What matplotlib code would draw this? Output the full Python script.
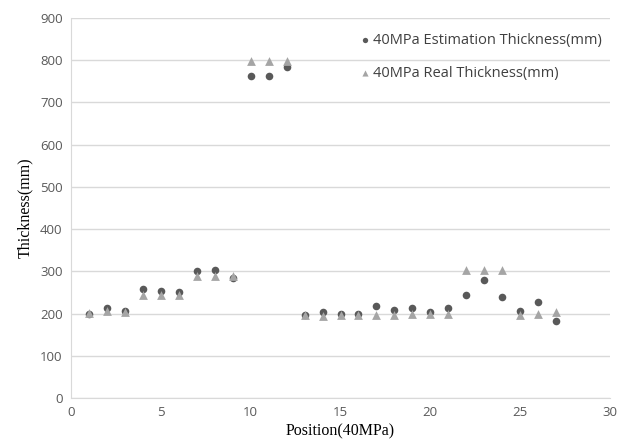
import matplotlib
matplotlib.use("Agg")
import matplotlib.pyplot as plt

positions = list(range(1, 28))
estimation = [200, 213, 206, 257, 253, 251, 301, 303, 284, 763, 763, 785,
              197, 203, 198, 199, 217, 209, 212, 203, 212, 245, 280, 239, 205, 227, 182]
real = [202, 205, 203, 245, 245, 245, 288, 288, 288, 798, 798, 797,
        196, 195, 196, 197, 197, 197, 199, 200, 199, 302, 302, 302, 197, 199, 203]

fig = plt.figure(figsize=(6.27, 4.44), dpi=100)
ax = fig.add_axes([0.1132, 0.1036, 0.8598, 0.856])

ax.scatter(positions, estimation, marker='o', s=30, color='#595959', zorder=3,
           label='40MPa Estimation Thickness(mm)', linewidths=0)
ax.scatter(positions, real, marker='^', s=40, color='#a5a5a5', zorder=3,
           label='40MPa Real Thickness(mm)', linewidths=0)

ax.set_xlim(0, 30)
ax.set_ylim(0, 900)
ax.set_xticks(range(0, 31, 5))
ax.set_yticks(range(0, 901, 100))
ax.grid(axis='y', color='#d9d9d9', linewidth=1)
ax.set_axisbelow(True)
for s in ['top', 'right']:
    ax.spines[s].set_visible(False)
for s in ['left', 'bottom']:
    ax.spines[s].set_color('#d9d9d9')
ax.tick_params(length=0, labelsize=9.5, labelcolor='#595959', pad=6)
for lbl in ax.get_xticklabels() + ax.get_yticklabels():
    lbl.set_fontfamily('Open Sans')

ax.set_xlabel('Position(40MPa)', fontfamily='Liberation Serif', fontsize=11.5, labelpad=3)
ax.set_ylabel('Thickness(mm)', fontfamily='Liberation Serif', fontsize=11.5, labelpad=5)

leg = ax.legend(loc='upper right', bbox_to_anchor=(1.01, 0.995), frameon=False,
                prop={'family': 'Open Sans', 'size': 10.5}, handletextpad=0.1,
                labelspacing=1.25, markerscale=0.7, handlelength=1.0)
for t in leg.get_texts():
    t.set_color('#404040')

fig.savefig('out.png', dpi=100)
